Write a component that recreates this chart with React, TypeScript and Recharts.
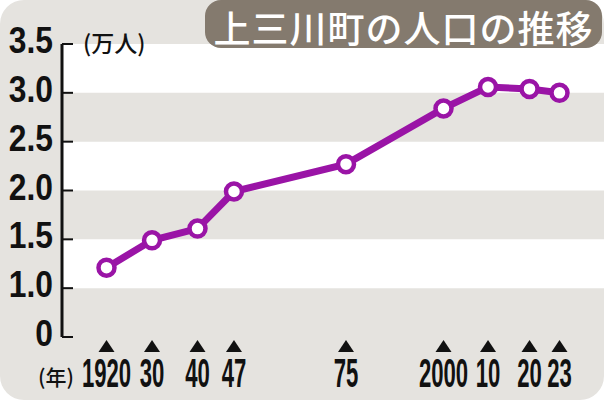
import React from 'react';
import { LineChart, Line, XAxis, YAxis, ReferenceArea } from 'recharts';

// ---- data ----
const years = [1920, 1930, 1940, 1947, 1975, 2000, 2010, 2020, 2023];
const population = [1.21, 1.49, 1.61, 1.99, 2.27, 2.84, 3.06, 3.04, 3.0]; // 万人
const yearLabels = ['1920', '30', '40', '47', '75', '2000', '10', '20', '23'];
// the printed time axis is not to scale: relative place of each year tick along the axis
const yearAxisPlaces = [0.0821, 0.1661, 0.25, 0.3173, 0.524, 0.7039, 0.786, 0.8626, 0.9179];
const yTicks = [0.5, 1, 1.5, 2, 2.5, 3, 3.5];
const yTickLabels = ['0', '1.0', '1.5', '2.0', '2.5', '3.0', '3.5']; // axis broken below 1.0
const whiteBands = [
  [1, 1.5],
  [2, 2.5],
  [3, 3.5],
];

const data = years.map((y, i) => ({ year: y, pop: population[i] }));

// piecewise-linear scale (d3-like interface) for the non-proportional year axis
function piecewiseScale(knots: number[], places: number[], dom?: any[], rng?: number[]): any {
  let domain: any[] = dom ? dom.slice() : [knots[0], knots[knots.length - 1]];
  let range: number[] = rng ? rng.slice() : [0, 1];
  const frac = (v: number) => {
    const n = knots.length;
    let i = 0;
    while (i < n - 2 && v > knots[i + 1]) i++;
    const t = (v - knots[i]) / (knots[i + 1] - knots[i]);
    return places[i] + t * (places[i + 1] - places[i]);
  };
  const scale: any = (v: any) => range[0] + frac(Number(v)) * (range[1] - range[0]);
  scale.domain = (d?: any[]) => {
    if (d === undefined) return domain.slice();
    domain = d.slice();
    return scale;
  };
  scale.range = (r?: number[]) => {
    if (r === undefined) return range.slice();
    range = r.slice();
    return scale;
  };
  scale.copy = () => piecewiseScale(knots, places, domain, range);
  scale.ticks = () => knots.slice();
  scale.tickFormat = () => (v: any) => String(v);
  scale.invert = (p: number) => {
    const f = (p - range[0]) / (range[1] - range[0]);
    const n = knots.length;
    let i = 0;
    while (i < n - 2 && f > places[i + 1]) i++;
    const t = (f - places[i]) / (places[i + 1] - places[i]);
    return knots[i] + t * (knots[i + 1] - knots[i]);
  };
  scale.clamp = () => scale;
  scale.nice = () => scale;
  scale.unknown = () => scale;
  return scale;
}

const xScale = piecewiseScale(years, yearAxisPlaces);

const DIGIT_FONT = '"Liberation Sans", Arial, sans-serif';
const CJK_FONT = '"Noto Sans CJK JP", "Noto Sans", sans-serif';
const PURPLE = '#9a14a6';

const XTick = (props: any) => {
  const { x, y, payload } = props;
  const idx = years.indexOf(Number(payload.value));
  const label = idx >= 0 ? yearLabels[idx] : String(payload.value);
  return (
    <g>
      <polygon points={`${x},${y + 3} ${x - 8},${y + 15} ${x + 8},${y + 15}`} fill="#111" />
      <text
        x={0}
        y={0}
        transform={`translate(${x},${y + 50}) scale(0.54,1)`}
        textAnchor="middle"
        fontSize={41}
        fontWeight="bold"
        fontFamily={DIGIT_FONT}
        fill="#111"
      >
        {label}
      </text>
    </g>
  );
};

const YTick = (props: any) => {
  const { x, y, payload } = props;
  const idx = yTicks.indexOf(Number(payload.value));
  const label = idx >= 0 ? yTickLabels[idx] : String(payload.value);
  return (
    <g>
      <line x1={x} x2={x + 11} y1={y} y2={y} stroke="#111" strokeWidth={2} />
      <text
        x={0}
        y={0}
        transform={`translate(${x - 9},${y + 9}) scale(0.86,1)`}
        textAnchor="end"
        fontSize={37}
        fontWeight="bold"
        fontFamily={DIGIT_FONT}
        fill="#111"
      >
        {label}
      </text>
    </g>
  );
};

export default function App() {
  return (
    <div
      style={{
        position: 'absolute',
        left: 0,
        top: 0,
        width: 604,
        height: 400,
        background: '#ffffff',
        overflow: 'hidden',
      }}
    >
      <div
        style={{
          position: 'absolute',
          left: 0,
          top: 0,
          width: 604,
          height: 400,
          background: '#e5e3df',
          borderRadius: 24,
        }}
      />
      <LineChart
        width={604}
        height={400}
        data={data}
        margin={{ top: 44, right: 0, left: 0, bottom: 0 }}
        style={{ position: 'absolute', left: 0, top: 0 }}
      >
        {whiteBands.map((b, i) => (
          <ReferenceArea key={i} y1={b[0]} y2={b[1]} fill="#ffffff" fillOpacity={1} stroke="none" ifOverflow="visible" />
        ))}
        <XAxis
          dataKey="year"
          type="number"
          scale={xScale}
          domain={[1920, 2023]}
          ticks={years}
          interval={0}
          height={63}
          tickSize={0}
          tickMargin={0}
          axisLine={false}
          tickLine={false}
          tick={<XTick />}
        />
        <YAxis
          type="number"
          domain={[0.5, 3.5]}
          ticks={yTicks}
          interval={0}
          width={62}
          tickSize={0}
          tickMargin={0}
          tickLine={false}
          axisLine={{ stroke: '#111', strokeWidth: 3 }}
          tick={<YTick />}
        />
        <Line
          type="linear"
          dataKey="pop"
          stroke={PURPLE}
          strokeWidth={7}
          dot={{ r: 8, fill: '#ffffff', stroke: PURPLE, strokeWidth: 4.5 }}
          activeDot={false}
          isAnimationActive={false}
        />
      </LineChart>
      <div
        style={{
          position: 'absolute',
          left: 205,
          top: 0,
          width: 397,
          height: 48,
          background: '#847a6e',
          borderRadius: 16,
        }}
      />
      <div
        style={{
          position: 'absolute',
          left: 205,
          top: 0,
          width: 397,
          color: '#ffffff',
          fontFamily: CJK_FONT,
          fontSize: 37,
          fontWeight: 500,
          lineHeight: 'normal',
          textAlign: 'center',
          letterSpacing: 1,
          whiteSpace: 'nowrap',
        }}
      >
        上三川町の人口の推移
      </div>
      <div
        style={{
          position: 'absolute',
          left: 83,
          top: 31,
          fontFamily: CJK_FONT,
          fontSize: 23,
          fontWeight: 500,
          lineHeight: '23px',
          color: '#111',
          whiteSpace: 'nowrap',
        }}
      >
        (万人)
      </div>
      <div
        style={{
          position: 'absolute',
          left: 38,
          top: 365,
          fontFamily: CJK_FONT,
          fontSize: 21,
          fontWeight: 500,
          lineHeight: '22px',
          color: '#111',
          whiteSpace: 'nowrap',
        }}
      >
        (年)
      </div>
    </div>
  );
}
